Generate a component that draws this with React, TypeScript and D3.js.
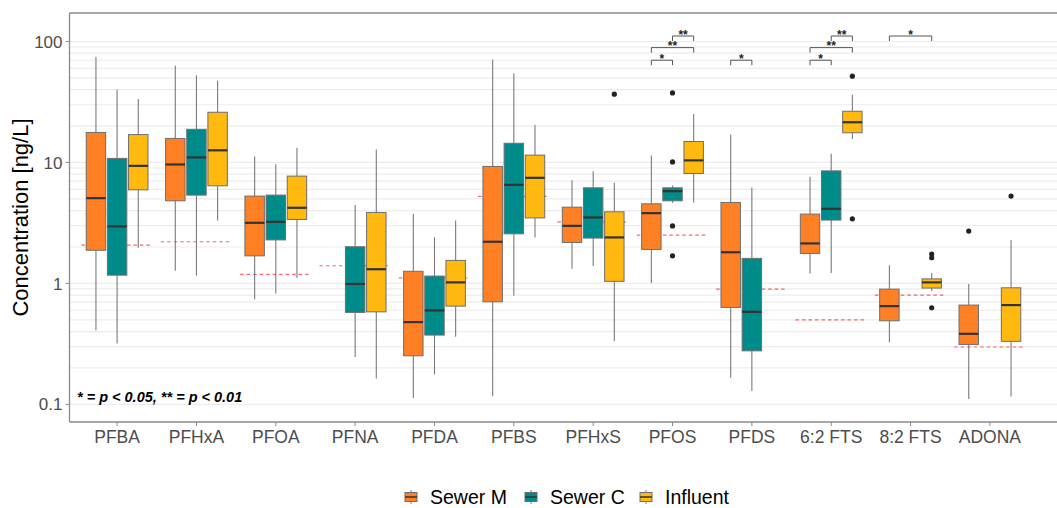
import React from "react";
import * as d3 from "d3";

const categories = ["PFBA", "PFHxA", "PFOA", "PFNA", "PFDA", "PFBS", "PFHxS", "PFOS", "PFDS", "6:2 FTS", "8:2 FTS", "ADONA"];
const groups = ["Sewer M", "Sewer C", "Influent"];
const colors = ["#FF7F24", "#008B8B", "#FFB90F"];

// [min, q1, median, q3, max] per category, null = not shown
const sewerM = [
  [0.41, 1.88, 5.07, 17.7, 74.6],
  [1.27, 4.82, 9.62, 15.8, 62.9],
  [0.74, 1.69, 3.17, 5.27, 11.2],
  null,
  [0.113, 0.252, 0.479, 1.26, 3.76],
  [0.117, 0.705, 2.21, 9.27, 71],
  [1.32, 2.18, 2.99, 4.27, 7.14],
  [1.01, 1.91, 3.81, 4.55, 11.4],
  [0.166, 0.633, 1.81, 4.67, 17.0],
  [1.21, 1.77, 2.14, 3.74, 7.6],
  [0.327, 0.491, 0.649, 0.897, 1.41],
  [0.111, 0.313, 0.383, 0.662, 0.99],
];
const sewerC = [
  [0.319, 1.17, 2.96, 10.8, 40.1],
  [1.16, 5.37, 11.0, 18.8, 52.6],
  [0.827, 2.29, 3.23, 5.37, 9.68],
  [0.246, 0.576, 0.99, 2.01, 4.44],
  [0.177, 0.374, 0.598, 1.15, 2.41],
  [0.79, 2.57, 6.53, 14.4, 54.7],
  [1.39, 2.37, 3.51, 6.17, 8.47],
  [4.64, 4.82, 5.79, 6.17, 6.45],
  [0.129, 0.277, 0.582, 1.61, 6.21],
  [1.22, 3.34, 4.14, 8.52, 11.8],
  null,
  null,
];
const influent = [
  [1.97, 5.94, 9.37, 17.0, 33.4],
  [3.32, 6.41, 12.6, 26.0, 47.3],
  [1.11, 3.38, 4.22, 7.71, 13.2],
  [0.164, 0.582, 1.31, 3.86, 12.8],
  [0.362, 0.649, 1.02, 1.55, 3.32],
  [2.4, 3.48, 7.46, 11.5, 20.5],
  [0.332, 1.04, 2.4, 3.91, 6.78],
  [4.67, 8.11, 10.4, 14.9, 25.2],
  null,
  [15.6, 17.6, 21.5, 26.5, 36.2],
  [0.864, 0.915, 1.02, 1.09, 1.22],
  [0.116, 0.332, 0.662, 0.92, 2.29],
];
const seriesStats = [sewerM, sewerC, influent];

const outliers = [
  { cat: "PFHxS", g: 2, v: 36.7 },
  { cat: "PFOS", g: 1, v: 37.6 },
  { cat: "PFOS", g: 1, v: 10.1 },
  { cat: "PFOS", g: 1, v: 2.99 },
  { cat: "PFOS", g: 1, v: 1.69 },
  { cat: "6:2 FTS", g: 2, v: 51.7 },
  { cat: "6:2 FTS", g: 2, v: 3.42 },
  { cat: "8:2 FTS", g: 2, v: 1.75 },
  { cat: "8:2 FTS", g: 2, v: 1.63 },
  { cat: "8:2 FTS", g: 2, v: 0.629 },
  { cat: "ADONA", g: 0, v: 2.71 },
  { cat: "ADONA", g: 2, v: 5.27 },
];

// red dashed reference level per category
const refLevels = [2.07, 2.21, 1.19, 1.4, 1.11, 5.24, 3.23, 2.51, 0.897, 0.5, 0.8, 0.298];

const signif = [
  { cat: "PFOS", a: 0, b: 1, y: 70, label: "*" },
  { cat: "PFOS", a: 0, b: 2, y: 89, label: "**" },
  { cat: "PFOS", a: 1, b: 2, y: 111, label: "**" },
  { cat: "PFDS", a: 0, b: 1, y: 70, label: "*" },
  { cat: "6:2 FTS", a: 0, b: 1, y: 70, label: "*" },
  { cat: "6:2 FTS", a: 0, b: 2, y: 89, label: "**" },
  { cat: "6:2 FTS", a: 1, b: 2, y: 111, label: "**" },
  { cat: "8:2 FTS", a: 0, b: 2, y: 111, label: "*" },
];

const yTicks = [0.1, 1, 10, 100];

const W = 1057;
const H = 508;
const left = 69.5;
const top = 13;
const bottom = 422;
const font = "'Liberation Sans', Arial, sans-serif";

export default function App() {
  const x = d3.scalePoint<string>().domain(categories).range([left, 1037.5]).padding(0.6);
  const step = x.step();
  const y = d3.scaleLog().domain([0.0715, 172]).range([bottom, top]);
  const dodge = step * 0.2667;
  const boxW = step * 0.245;
  const gx = (cat: string, g: number) => (x(cat) as number) + (g - 1) * dodge;

  const grid = y.ticks().filter((v) => v >= 0.1 && v <= 100.0001);

  const boxes: any[] = [];
  seriesStats.forEach((arr, g) => {
    arr.forEach((s, i) => {
      if (s) boxes.push({ cat: categories[i], g, s });
    });
  });

  const legendX = [405, 525, 640];

  return (
    <svg width={W} height={H} style={{ position: "absolute", left: 0, top: 0, background: "#fff" }} fontFamily={font}>
      {/* grid */}
      {grid.map((v, i) => (
        <line key={"g" + i} x1={left} x2={W} y1={y(v)} y2={y(v)} stroke="#ececec" strokeWidth={1.2} />
      ))}

      {/* reference levels */}
      {refLevels.map((v, i) => (
        <line
          key={"r" + i}
          x1={(x(categories[i]) as number) - step * 0.45}
          x2={(x(categories[i]) as number) + step * 0.45}
          y1={y(v)}
          y2={y(v)}
          stroke="#ff4040"
          strokeWidth={1.2}
          strokeDasharray="3.5,3"
          opacity={0.8}
        />
      ))}

      {/* boxes */}
      {boxes.map((b, i) => {
        const cx = gx(b.cat, b.g);
        const [mn, q1, md, q3, mx] = b.s;
        return (
          <g key={"b" + i}>
            <line x1={cx} x2={cx} y1={y(mx)} y2={y(q3)} stroke="#7a7a7a" strokeWidth={1.1} />
            <line x1={cx} x2={cx} y1={y(q1)} y2={y(mn)} stroke="#7a7a7a" strokeWidth={1.1} />
            <rect x={cx - boxW / 2} y={y(q3)} width={boxW} height={y(q1) - y(q3)} fill={colors[b.g]} stroke="#6e6e6e" strokeWidth={1} />
            <line x1={cx - boxW / 2} x2={cx + boxW / 2} y1={y(md)} y2={y(md)} stroke="#333" strokeWidth={2.2} />
          </g>
        );
      })}

      {/* outliers */}
      {outliers.map((o, i) => (
        <circle key={"o" + i} cx={gx(o.cat, o.g)} cy={y(o.v)} r={2.6} fill="#222" />
      ))}

      {/* significance brackets */}
      {signif.map((s, i) => {
        const x1 = gx(s.cat, s.a);
        const x2 = gx(s.cat, s.b);
        const yy = y(s.y);
        return (
          <g key={"s" + i}>
            <path d={`M${x1},${yy + 5}V${yy}H${x2}V${yy + 5}`} fill="none" stroke="#555" strokeWidth={1} />
            <text
              x={(x1 + x2) / 2}
              y={yy + 2.5}
              textAnchor="middle"
              fontSize={12}
              fontWeight="bold"
              fill="#222"
              style={{ WebkitFontSmoothing: "antialiased" } as any}
            >
              {s.label}
            </text>
          </g>
        );
      })}

      {/* panel borders */}
      <line x1={left} x2={left} y1={top} y2={bottom} stroke="#8a8a8a" strokeWidth={1.3} />
      <line x1={left} x2={W} y1={top} y2={top} stroke="#8a8a8a" strokeWidth={1.3} />
      <line x1={left} x2={W} y1={bottom} y2={bottom} stroke="#8a8a8a" strokeWidth={1.3} />

      {/* y axis */}
      {yTicks.map((v, i) => (
        <g key={"yt" + i}>
          <line x1={left - 4} x2={left} y1={y(v)} y2={y(v)} stroke="#8a8a8a" />
          <text x={left - 7} y={y(v)} dy="0.36em" textAnchor="end" fontSize={17} fill="#4d4d4d">
            {String(v)}
          </text>
        </g>
      ))}
      <text transform={`translate(28,${(top + bottom) / 2}) rotate(-90)`} textAnchor="middle" fontSize={22} fill="#000">
        Concentration [ng/L]
      </text>

      {/* x axis */}
      {categories.map((c) => (
        <g key={"xt" + c}>
          <line x1={x(c) as number} x2={x(c) as number} y1={bottom} y2={bottom + 4} stroke="#8a8a8a" />
          <text x={x(c) as number} y={443} textAnchor="middle" fontSize={17.5} fill="#4d4d4d">
            {c}
          </text>
        </g>
      ))}

      {/* note */}
      <text x={77} y={402} fontSize={14.5} fontWeight="bold" fontStyle="italic" fill="#000">
        * = p &lt; 0.05, ** = p &lt; 0.01
      </text>

      {/* legend */}
      {groups.map((gName, g) => {
        const lx = legendX[g];
        const cy = 497;
        return (
          <g key={"lg" + g}>
            <line x1={lx + 6} x2={lx + 6} y1={cy - 7} y2={cy + 7} stroke="#7a7a7a" />
            <rect x={lx} y={cy - 4.5} width={12} height={9} fill={colors[g]} stroke="#6e6e6e" />
            <line x1={lx} x2={lx + 12} y1={cy} y2={cy} stroke="#333" strokeWidth={1.5} />
            <text x={lx + 25} y={cy} dy="0.36em" fontSize={19.5} fill="#000">
              {gName}
            </text>
          </g>
        );
      })}
    </svg>
  );
}
